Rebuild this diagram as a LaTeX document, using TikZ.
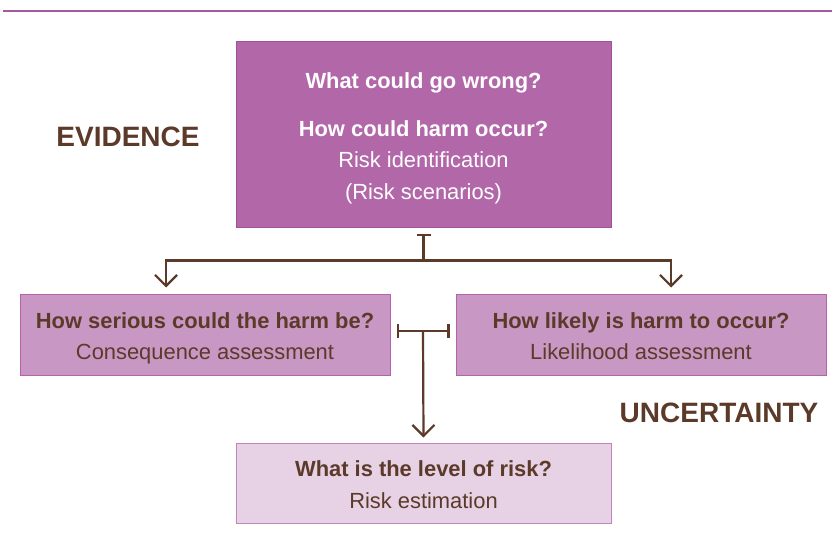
\documentclass[tikz,border=0pt]{standalone}
\usepackage{fontspec}
\setmainfont{Liberation Sans}
\usetikzlibrary{arrows.meta,calc}
\definecolor{topfill}{HTML}{B267A9}
\definecolor{topdraw}{HTML}{A24E98}
\definecolor{midfill}{HTML}{C997C4}
\definecolor{middraw}{HTML}{B562AC}
\definecolor{lowfill}{HTML}{E6D1E5}
\definecolor{lowdraw}{HTML}{C184BB}
\definecolor{ink}{HTML}{5B3A29}
\definecolor{rule}{HTML}{A45A9C}
\newcommand\lift{\rule{0pt}{24.5pt}}
\newcommand\sink{\rule[-6pt]{0pt}{6pt}}
\tikzset{
  boxbase/.style={rectangle, inner sep=0pt, align=center, line width=1pt,
    font=\fontsize{21.9}{31.5}\selectfont},
  topbox/.style={boxbase, fill=topfill, draw=topdraw, text=white,
    minimum width=375pt, minimum height=185pt},
  midbox/.style={boxbase, fill=midfill, draw=middraw, text=ink,
    minimum width=370pt, minimum height=81pt},
  lowbox/.style={boxbase, fill=lowfill, draw=lowdraw, text=ink,
    minimum width=375pt, minimum height=80pt},
  bigword/.style={text=ink, font=\fontsize{28}{30}\selectfont\bfseries, inner sep=0pt},
  conn/.style={draw=ink, line width=2.2pt},
  tip/.style={-{Straight Barb[length=11pt,width=22pt,line width=2.2pt]}},
  barend/.tip={Bar[width=14pt,line width=2.2pt]},
}
\begin{document}
\begin{tikzpicture}[x=1pt,y=-1pt]
\useasboundingbox (0,0) rectangle (832,548);
\coordinate (ruleL) at (3,11);
\coordinate (ruleR) at (832,11);
\draw[rule, line width=1.5pt] (ruleL) -- (ruleR);

\node[topbox] (top) at (423.5,134.5) {\lift\textbf{What could go wrong?}\\[16.5pt]\textbf{How could harm occur?}\\Risk identification\\(Risk scenarios)\sink};
\node[midbox] (left) at (205,334.5) {\lift\textbf{How serious could the harm be?}\\Consequence assessment\sink};
\node[midbox] (right) at (641,334.5) {\lift\textbf{How likely is harm to occur?}\\Likelihood assessment\sink};
\node[lowbox] (low) at (423.5,483) {\lift\textbf{What is the level of risk?}\\Risk estimation\sink};

\node[bigword] (evidence) at (128,137) {EVIDENCE};
\node[bigword] (uncert) at (719,413) {UNCERTAINTY};

% split from top
\coordinate (split) at ($(top.south)+(0,33)$);
\draw[conn, barend-] ($(top.south)+(0,6)$) -- (split);
\draw[conn, tip] (split) -| ($(left.north)+(-39,-6)$);
\draw[conn, tip] (split) -| ($(right.north)+(30,-6)$);

% join to bottom
\coordinate (lbar) at ($(left.east)+(6,-3.5)$);
\coordinate (rbar) at ($(right.west)+(-6,-3.5)$);
\coordinate (join) at ($(lbar)!0.5!(rbar)$);
\draw[conn, barend-barend] (lbar) -- (rbar);
\draw[conn, tip] (join) -- ($(low.north)+(0,-5)$);
\end{tikzpicture}
\end{document}
